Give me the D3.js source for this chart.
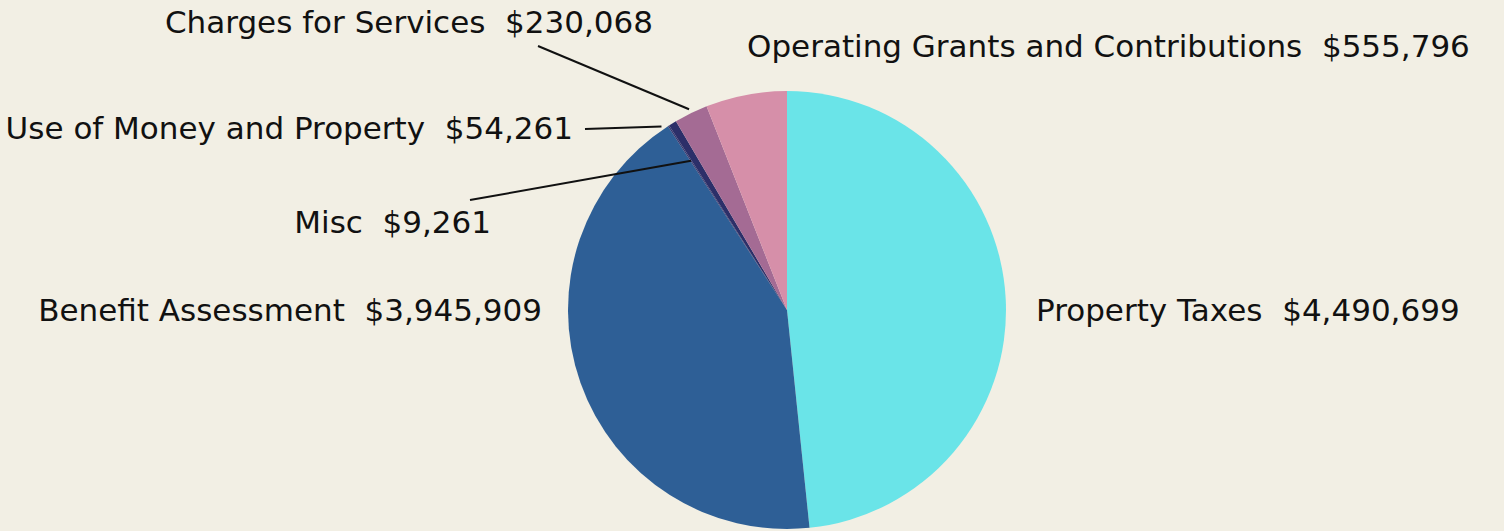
<!DOCTYPE html>
<html>
<head>
<meta charset="utf-8">
<script src="https://cdn.jsdelivr.net/npm/d3@7"></script>
<style>
  html, body { margin: 0; padding: 0; background: #f2efe4; }
  svg { display: block; }
  text { font-family: "DejaVu Sans", sans-serif; fill: #111; white-space: pre; }
</style>
</head>
<body>
<div id="chart"></div>
<script>
// DATA
const categories = [
    "Property Taxes",
    "Benefit Assessment",
    "Misc",
    "Use of Money and Property",
    "Charges for Services",
    "Operating Grants and Contributions",
];
const amounts = [4490699, 3945909, 9261, 54261, 230068, 555796];
const colors = ["#6ae4e8", "#2e5f96", "#33346f", "#2c2f69", "#a46b94", "#d68fa9"];

const width = 1504;
const height = 531;
const cx = 787;
const cy = 310;
const radius = 219;

const data = categories.map((c, i) => ({ name: c, value: amounts[i], color: colors[i] }));

const svg = d3
    .select("#chart")
    .append("svg")
    .attr("width", width)
    .attr("height", height);

svg.append("rect").attr("width", width).attr("height", height).attr("fill", "#f2efe4");

const pie = d3.pie().sort(null).value((d) => d.value);
const arcs = pie(data);
const arc = d3.arc().innerRadius(0).outerRadius(radius);

const g = svg.append("g").attr("transform", `translate(${cx},${cy})`);

g.selectAll("path")
    .data(arcs)
    .enter()
    .append("path")
    .attr("d", arc)
    .attr("fill", (d) => d.data.color);

const fmt = d3.format("$,");

// label positions (baseline) and leader line starts
const layout = {
    "Property Taxes": { x: 1036, y: 321, anchor: "start" },
    "Benefit Assessment": { x: 542, y: 321, anchor: "end" },
    "Misc": { x: 491, y: 233, anchor: "end", line: { fx: 470, fy: 200, r: 0.81, a: 0 } },
    "Use of Money and Property": { x: 573, y: 139, anchor: "end", line: { fx: 585, fy: 129, r: 1.015, a: -0.05 } },
    "Charges for Services": { x: 653, y: 33, anchor: "end", line: { fx: 538, fy: 46, r: 1.02, a: 0 } },
    "Operating Grants and Contributions": { x: 747, y: 57, anchor: "start" },
};

// leader lines
arcs.forEach((d) => {
    const l = layout[d.data.name].line;
    if (!l) return;
    const a = (d.startAngle + d.endAngle) / 2 + l.a;
    const r = radius * l.r;
    svg.append("line")
        .attr("x1", l.fx)
        .attr("y1", l.fy)
        .attr("x2", cx + r * Math.sin(a))
        .attr("y2", cy - r * Math.cos(a))
        .attr("stroke", "#111")
        .attr("stroke-width", 2);
});

// labels
svg.selectAll(".label")
    .data(arcs)
    .enter()
    .append("text")
    .attr("class", "label")
    .attr("x", (d) => layout[d.data.name].x)
    .attr("y", (d) => layout[d.data.name].y)
    .attr("text-anchor", (d) => layout[d.data.name].anchor)
    .style("font-size", "31px")
    .text((d) => `${d.data.name}  ${fmt(d.data.value)}`);
</script>
</body>
</html>
